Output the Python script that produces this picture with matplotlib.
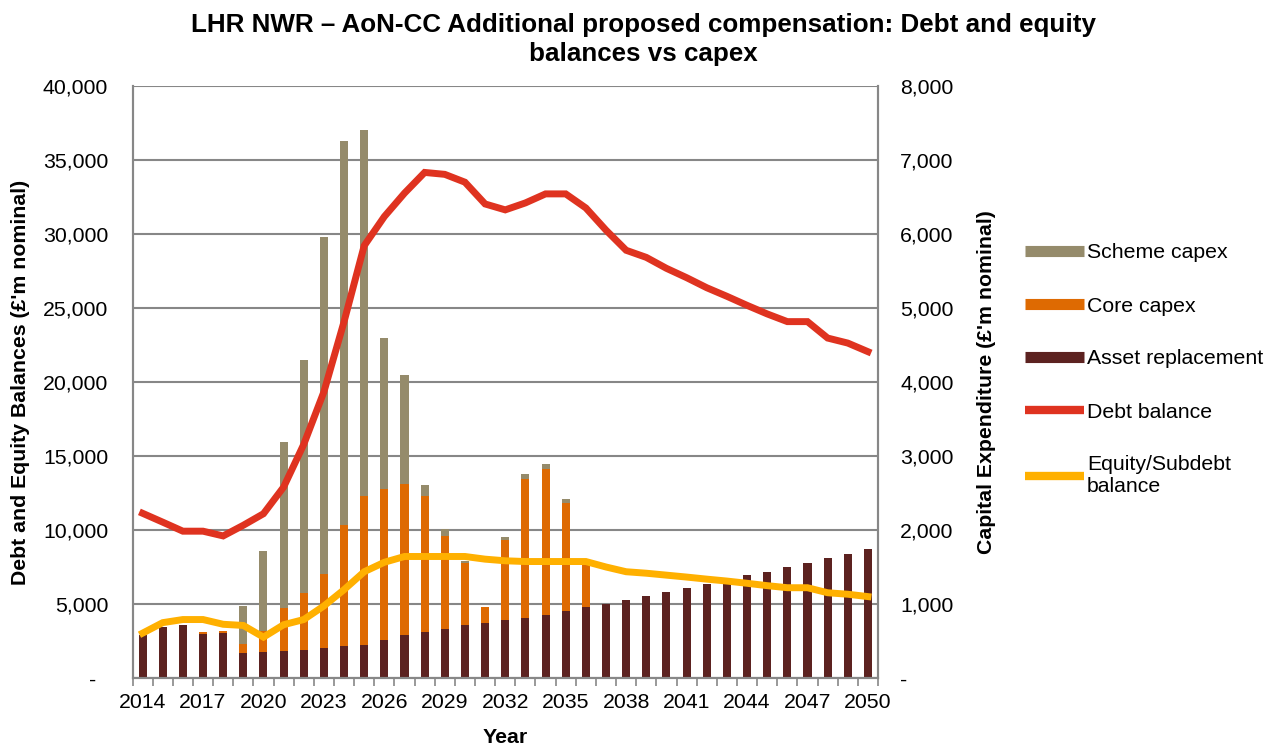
import numpy as np
import matplotlib
matplotlib.use("Agg")
import matplotlib.pyplot as plt
from matplotlib.lines import Line2D
from matplotlib.ticker import FuncFormatter

plt.rcParams['font.family'] = ['Liberation Sans', 'DejaVu Sans']

# ----------------------------
# Data (£m nominal)
# ----------------------------
years = list(range(2014, 2051))

asset_replacement = [580, 684, 710, 595, 605, 332, 353, 363, 379, 405,
                     426, 447, 516, 579, 621, 658, 711, 747, 789, 816,
                     858, 911, 953, 1000, 1053, 1111, 1163, 1216, 1274, 1337,
                     1389, 1432, 1500, 1553, 1616, 1674, 1747]
core_capex = [0, 0, 0, 21, 32, 126, 279, 584, 774, 1000,
              1642, 2011, 2037, 2042, 1842, 1263, 842, 211, 1079, 1868,
              1968, 1457, 615, 0, 0, 0, 0, 0, 0, 0,
              0, 0, 0, 0, 0, 0, 0]
scheme_capex = [0, 0, 0, 0, 0, 516, 1079, 2237, 3147, 4553,
                5185, 4947, 2042, 1468, 142, 95, 26, 0, 43, 69,
                69, 48, 0, 0, 0, 0, 0, 0, 0, 0,
                0, 0, 0, 0, 0, 0, 0]

debt_balance = [11130, 10530, 9920, 9920, 9600, 10320, 11100, 12900, 15790, 19340,
                24080, 29210, 31180, 32760, 34160, 34030, 33500, 32030, 31630, 32100,
                32710, 32710, 31760, 30260, 28900, 28420, 27680, 27050, 26370, 25790,
                25180, 24600, 24080, 24080, 22970, 22630, 22050]
equity_balance = [3030, 3740, 3950, 3950, 3630, 3550, 2760, 3600, 3950, 4870,
                  5970, 7180, 7820, 8210, 8210, 8210, 8210, 8030, 7920, 7870,
                  7870, 7870, 7870, 7500, 7180, 7080, 6950, 6820, 6680, 6550,
                  6400, 6240, 6100, 6100, 5760, 5660, 5500]

# ----------------------------
# Styling
# ----------------------------
c_scheme = '#958B6B'
c_core = '#DE6A02'
c_asset = '#5C2220'
c_debt = '#DF3320'
c_equity = '#FFB000'
c_grid = '#878787'
fs = 15.3

fig = plt.figure(figsize=(12.74, 7.47), dpi=100)
ax_bar = fig.add_axes([132.5 / 1274, 1 - 678 / 747, 745.5 / 1274, 592 / 747])
ax = ax_bar.twinx()
ax.set_zorder(ax_bar.get_zorder() + 1)
ax.patch.set_visible(False)

x = np.arange(len(years))
w = 0.4
asset = np.array(asset_replacement)
core = np.array(core_capex)
scheme = np.array(scheme_capex)

# stacked capex bars on the right-hand scale
ax_bar.bar(x, asset, w, color=c_asset, zorder=2)
ax_bar.bar(x, core, w, bottom=asset, color=c_core, zorder=2)
ax_bar.bar(x, scheme, w, bottom=asset + core, color=c_scheme, zorder=2)

# balances on the left-hand scale
ax.plot(x, debt_balance, color=c_debt, lw=5, solid_joinstyle='miter', zorder=3)
ax.plot(x, equity_balance, color=c_equity, lw=5, solid_joinstyle='miter', zorder=3)

# ----------------------------
# Axes
# ----------------------------
ax_bar.set_xlim(-0.5, len(years) - 0.5)
ax_bar.set_ylim(0, 8000)
ax.set_ylim(0, 40000)

# bars axis sits at the back: its ticks go right, the lines axis ticks go left
ax_bar.yaxis.tick_right()
ax_bar.yaxis.set_label_position('right')
ax.yaxis.tick_left()
ax.yaxis.set_label_position('left')

# Excel accounting style: zero shown as a dash
ax.set_yticks(np.arange(0, 40001, 5000))
ax.yaxis.set_major_formatter(FuncFormatter(lambda v, p: '-  ' if v == 0 else f'{v:,.0f}'))
ax_bar.set_yticks(np.arange(0, 8001, 1000))
ax_bar.yaxis.set_major_formatter(FuncFormatter(lambda v, p: '-' if v == 0 else f'{v:,.0f}'))

ax_bar.grid(axis='y', color=c_grid, lw=1.5)
ax_bar.set_axisbelow(True)

ax_bar.set_xticks(x[::3])
ax_bar.set_xticklabels([str(y) for y in years[::3]], fontsize=fs)
ax_bar.set_xticks(np.arange(-0.5, len(years), 1), minor=True)
ax_bar.tick_params(axis='x', which='major', length=0, pad=10.5)
ax_bar.tick_params(axis='x', which='minor', length=6, width=1.2, color=c_grid, direction='out')

ax.tick_params(axis='y', length=0, labelsize=fs, pad=17.5)
ax_bar.tick_params(axis='y', length=0, labelsize=fs, pad=16)

for a in (ax, ax_bar):
    for s in a.spines.values():
        s.set_color(c_grid)
        s.set_linewidth(1.5)
    a.spines['top'].set_visible(False)

ax.set_ylabel("Debt and Equity Balances (£'m nominal)", fontsize=fs, fontweight='bold', labelpad=9)
ax_bar.set_ylabel("Capital Expenditure (£'m nominal)", fontsize=fs, fontweight='bold', labelpad=17)
ax_bar.set_xlabel('Year', fontsize=fs, fontweight='bold', labelpad=11.5)

fig.text(0.505, 1 - 39.5 / 747,
         'LHR NWR – AoN-CC Additional proposed compensation: Debt and equity\nbalances vs capex',
         ha='center', va='center', fontsize=18.7, fontweight='bold', linespacing=1.28)

# ----------------------------
# Legend
# ----------------------------
handles = [
    Line2D([], [], color=c_scheme, lw=8, solid_capstyle='butt'),
    Line2D([], [], color=c_core, lw=8, solid_capstyle='butt'),
    Line2D([], [], color=c_asset, lw=8, solid_capstyle='butt'),
    Line2D([], [], color=c_debt, lw=6, solid_capstyle='butt'),
    Line2D([], [], color=c_equity, lw=6, solid_capstyle='butt'),
]
labels = ['Scheme capex', 'Core capex', 'Asset replacement', 'Debt balance',
          'Equity/Subdebt\nbalance']
fig.legend(handles, labels, loc='upper left', bbox_to_anchor=(1016 / 1274, 1 - 235 / 747),
           frameon=False, fontsize=fs, handlelength=2.8, handletextpad=0.15,
           labelspacing=1.6, borderaxespad=0)

fig.savefig('out.png', dpi=100)
